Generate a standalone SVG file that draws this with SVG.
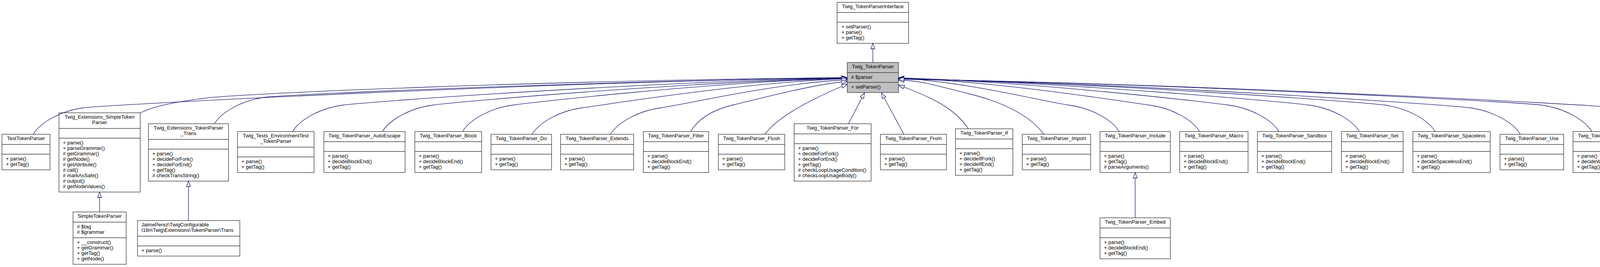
<svg xmlns="http://www.w3.org/2000/svg" width="4386" height="684" viewBox="0 0 4386 684">
<style>
.b{fill:#fff;stroke:#404040;stroke-width:1.4}
.f{fill:#bfbfbf}
.s{stroke:#404040;stroke-width:1.4;fill:none}
text{font-family:"Liberation Sans",Arial,Helvetica,sans-serif;font-size:13px;fill:#000}
.h{text-anchor:middle}
.e{fill:none;stroke:#191970;stroke-width:1.3;marker-end:url(#ah)}
</style>
<defs>
<marker id="ah" markerUnits="userSpaceOnUse" markerWidth="16" markerHeight="12" viewBox="-1 -6 16 12" refX="0" refY="0" orient="auto">
<path d="M0,-5 L14,0 L0,5 Z" fill="#fff" stroke="#191970" stroke-width="1.3"/>
</marker>
</defs>
<rect width="4386" height="684" fill="#fff"/>

<g id="n_interface">
<rect class="b" x="2143" y="6" width="183" height="105"/>
<path class="s" d="M2143,32H2326M2143,57H2326"/>
<text class="h" x="2234.5" y="21">Twig_TokenParserInterface</text>
<text x="2154" y="73">+ setParser()</text>
<text x="2154" y="87">+ parse()</text>
<text x="2154" y="101">+ getTag()</text>
</g>

<g id="n_tokenparser">
<rect class="b f" x="2169" y="160" width="131" height="77"/>
<path class="s" d="M2169,186H2300M2169,211H2300"/>
<text class="h" x="2234.5" y="175">Twig_TokenParser</text>
<text x="2179" y="202"># $parser</text>
<text x="2179" y="227">+ setParser()</text>
</g>

<g id="n_testtokenparser">
<rect class="b" x="5" y="344" width="123" height="91"/>
<path class="s" d="M5,370H128M5,395H128"/>
<text class="h" x="66.5" y="359">TestTokenParser</text>
<text x="15" y="411">+ parse()</text>
<text x="15" y="425">+ getTag()</text>
</g>

<g id="n_ext_simpletokenparser">
<rect class="b" x="151" y="289" width="208" height="203"/>
<path class="s" d="M151,329H359M151,354H359"/>
<text class="h" x="255" y="304">Twig_Extensions_SimpleToken</text>
<text class="h" x="255" y="318">Parser</text>
<text x="161" y="370">+ parse()</text>
<text x="161" y="384">+ parseGrammar()</text>
<text x="161" y="398"># getGrammar()</text>
<text x="161" y="412"># getNode()</text>
<text x="161" y="426"># getAttribute()</text>
<text x="161" y="440"># call()</text>
<text x="161" y="454"># markAsSafe()</text>
<text x="161" y="468"># output()</text>
<text x="161" y="482"># getNodeValues()</text>
</g>

<g id="n_ext_trans">
<rect class="b" x="380" y="317" width="205" height="147"/>
<path class="s" d="M380,357H585M380,382H585"/>
<text class="h" x="482.5" y="332">Twig_Extensions_TokenParser</text>
<text class="h" x="482.5" y="346">_Trans</text>
<text x="390" y="398">+ parse()</text>
<text x="390" y="412">+ decideForFork()</text>
<text x="390" y="426">+ decideForEnd()</text>
<text x="390" y="440">+ getTag()</text>
<text x="390" y="454"># checkTransString()</text>
</g>

<g id="n_tests_env">
<rect class="b" x="608" y="337" width="196" height="105"/>
<path class="s" d="M608,377H804M608,402H804"/>
<text class="h" x="706" y="352">Twig_Tests_EnvironmentTest</text>
<text class="h" x="706" y="366">_TokenParser</text>
<text x="618" y="418">+ parse()</text>
<text x="618" y="432">+ getTag()</text>
</g>

<g id="n_autoescape">
<rect class="b" x="829" y="337" width="208" height="105"/>
<path class="s" d="M829,363H1037M829,388H1037"/>
<text class="h" x="933" y="352">Twig_TokenParser_AutoEscape</text>
<text x="839" y="404">+ parse()</text>
<text x="839" y="418">+ decideBlockEnd()</text>
<text x="839" y="432">+ getTag()</text>
</g>

<g id="n_block">
<rect class="b" x="1062" y="337" width="171" height="105"/>
<path class="s" d="M1062,363H1233M1062,388H1233"/>
<text class="h" x="1147.5" y="352">Twig_TokenParser_Block</text>
<text x="1072" y="404">+ parse()</text>
<text x="1072" y="418">+ decideBlockEnd()</text>
<text x="1072" y="432">+ getTag()</text>
</g>

<g id="n_do">
<rect class="b" x="1257" y="344" width="155" height="91"/>
<path class="s" d="M1257,370H1412M1257,395H1412"/>
<text class="h" x="1334.5" y="359">Twig_TokenParser_Do</text>
<text x="1267" y="411">+ parse()</text>
<text x="1267" y="425">+ getTag()</text>
</g>

<g id="n_extends">
<rect class="b" x="1435" y="344" width="187" height="91"/>
<path class="s" d="M1435,370H1622M1435,395H1622"/>
<text class="h" x="1528.5" y="359">Twig_TokenParser_Extends</text>
<text x="1445" y="411">+ parse()</text>
<text x="1445" y="425">+ getTag()</text>
</g>

<g id="n_filter">
<rect class="b" x="1647" y="337" width="167" height="105"/>
<path class="s" d="M1647,363H1814M1647,388H1814"/>
<text class="h" x="1730.5" y="352">Twig_TokenParser_Filter</text>
<text x="1657" y="404">+ parse()</text>
<text x="1657" y="418">+ decideBlockEnd()</text>
<text x="1657" y="432">+ getTag()</text>
</g>

<g id="n_flush">
<rect class="b" x="1839" y="344" width="170" height="91"/>
<path class="s" d="M1839,370H2009M1839,395H2009"/>
<text class="h" x="1924" y="359">Twig_TokenParser_Flush</text>
<text x="1849" y="411">+ parse()</text>
<text x="1849" y="425">+ getTag()</text>
</g>

<g id="n_for">
<rect class="b" x="2033" y="317" width="197" height="147"/>
<path class="s" d="M2033,343H2230M2033,368H2230"/>
<text class="h" x="2131.5" y="332">Twig_TokenParser_For</text>
<text x="2043" y="384">+ parse()</text>
<text x="2043" y="398">+ decideForFork()</text>
<text x="2043" y="412">+ decideForEnd()</text>
<text x="2043" y="426">+ getTag()</text>
<text x="2043" y="440"># checkLoopUsageCondition()</text>
<text x="2043" y="454"># checkLoopUsageBody()</text>
</g>

<g id="n_from">
<rect class="b" x="2254" y="344" width="169" height="91"/>
<path class="s" d="M2254,370H2423M2254,395H2423"/>
<text class="h" x="2338.5" y="359">Twig_TokenParser_From</text>
<text x="2264" y="411">+ parse()</text>
<text x="2264" y="425">+ getTag()</text>
</g>

<g id="n_if">
<rect class="b" x="2446" y="330" width="147" height="119"/>
<path class="s" d="M2446,356H2593M2446,381H2593"/>
<text class="h" x="2519.5" y="345">Twig_TokenParser_If</text>
<text x="2456" y="397">+ parse()</text>
<text x="2456" y="411">+ decideIfFork()</text>
<text x="2456" y="425">+ decideIfEnd()</text>
<text x="2456" y="439">+ getTag()</text>
</g>

<g id="n_import">
<rect class="b" x="2617" y="344" width="175" height="91"/>
<path class="s" d="M2617,370H2792M2617,395H2792"/>
<text class="h" x="2704.5" y="359">Twig_TokenParser_Import</text>
<text x="2627" y="411">+ parse()</text>
<text x="2627" y="425">+ getTag()</text>
</g>

<g id="n_include">
<rect class="b" x="2816" y="337" width="180" height="105"/>
<path class="s" d="M2816,363H2996M2816,388H2996"/>
<text class="h" x="2906" y="352">Twig_TokenParser_Include</text>
<text x="2826" y="404">+ parse()</text>
<text x="2826" y="418">+ getTag()</text>
<text x="2826" y="432"># parseArguments()</text>
</g>

<g id="n_macro">
<rect class="b" x="3020" y="337" width="175" height="105"/>
<path class="s" d="M3020,363H3195M3020,388H3195"/>
<text class="h" x="3107.5" y="352">Twig_TokenParser_Macro</text>
<text x="3030" y="404">+ parse()</text>
<text x="3030" y="418">+ decideBlockEnd()</text>
<text x="3030" y="432">+ getTag()</text>
</g>

<g id="n_sandbox">
<rect class="b" x="3219" y="337" width="190" height="105"/>
<path class="s" d="M3219,363H3409M3219,388H3409"/>
<text class="h" x="3314" y="352">Twig_TokenParser_Sandbox</text>
<text x="3229" y="404">+ parse()</text>
<text x="3229" y="418">+ decideBlockEnd()</text>
<text x="3229" y="432">+ getTag()</text>
</g>

<g id="n_set">
<rect class="b" x="3434" y="337" width="158" height="105"/>
<path class="s" d="M3434,363H3592M3434,388H3592"/>
<text class="h" x="3513" y="352">Twig_TokenParser_Set</text>
<text x="3444" y="404">+ parse()</text>
<text x="3444" y="418">+ decideBlockEnd()</text>
<text x="3444" y="432">+ getTag()</text>
</g>

<g id="n_spaceless">
<rect class="b" x="3617" y="337" width="198" height="105"/>
<path class="s" d="M3617,363H3815M3617,388H3815"/>
<text class="h" x="3716" y="352">Twig_TokenParser_Spaceless</text>
<text x="3627" y="404">+ parse()</text>
<text x="3627" y="418">+ decideSpacelessEnd()</text>
<text x="3627" y="432">+ getTag()</text>
</g>

<g id="n_use">
<rect class="b" x="3840" y="344" width="163" height="91"/>
<path class="s" d="M3840,370H4003M3840,395H4003"/>
<text class="h" x="3921.5" y="359">Twig_TokenParser_Use</text>
<text x="3850" y="411">+ parse()</text>
<text x="3850" y="425">+ getTag()</text>
</g>

<g id="n_with">
<rect class="b" x="4027" y="337" width="165" height="105"/>
<path class="s" d="M4027,363H4192M4027,388H4192"/>
<text class="h" x="4109.5" y="352">Twig_TokenParser_With</text>
<text x="4037" y="404">+ parse()</text>
<text x="4037" y="418">+ decideWithEnd()</text>
<text x="4037" y="432">+ getTag()</text>
</g>

<g id="n_twigtest">
<rect class="b" x="4217" y="344" width="164" height="91"/>
<path class="s" d="M4217,370H4381M4217,395H4381"/>
<text class="h" x="4299" y="359">TwigTestTokenParser_§</text>
<text x="4227" y="411">+ parse()</text>
<text x="4227" y="425">+ getTag()</text>
</g>

<g id="n_simpletokenparser">
<rect class="b" x="187" y="543" width="136" height="134"/>
<path class="s" d="M187,569H323M187,609H323"/>
<text class="h" x="255" y="558">SimpleTokenParser</text>
<text x="197" y="585"># $tag</text>
<text x="197" y="599"># $grammar</text>
<text x="197" y="625">+ __construct()</text>
<text x="197" y="639">+ getGrammar()</text>
<text x="197" y="653">+ getTag()</text>
<text x="197" y="667">+ getNode()</text>
</g>

<g id="n_jaime_trans">
<rect class="b" x="352" y="565" width="262" height="91"/>
<path class="s" d="M352,605H614M352,630H614"/>
<text x="362" y="580">JaimePerez\TwigConfigurable</text>
<text x="362" y="594">I18n\Twig\Extensions\TokenParser\Trans</text>
<text x="362" y="646">+ parse()</text>
</g>

<g id="n_embed">
<rect class="b" x="2816" y="558" width="180" height="105"/>
<path class="s" d="M2816,584H2996M2816,609H2996"/>
<text class="h" x="2906" y="573">Twig_TokenParser_Embed</text>
<text x="2826" y="625">+ parse()</text>
<text x="2826" y="639">+ decideBlockEnd()</text>
<text x="2826" y="653">+ getTag()</text>
</g>

<g id="connectors">
<path class="e" d="M2234.5,160L2234.5,125"/>
<path class="e" d="M255,543L255,506"/>
<path class="e" d="M482.5,565L482.5,478"/>
<path class="e" d="M2906,558L2906,456"/>
<path class="e" d="M2172,317L2206.6,250.5"/>
<path class="e" d="M2314,344L2263.2,250.2"/>
<path class="e" d="M85,344C103,314 155,284 215,276S1379,211 2155,199"/>
<path class="e" d="M358,290C380,278 420,265 520,252S1400,206 2155,199"/>
<path class="e" d="M549,317C567,287 619,257 679,249S1565,207 2155,200"/>
<path class="e" d="M749,337C767,307 819,277 879,269S1645,210 2155,200"/>
<path class="e" d="M979,337C997,307 1049,277 1109,269S1737,211 2155,201"/>
<path class="e" d="M1184,337C1202,307 1254,277 1314,269S1819,211 2155,201"/>
<path class="e" d="M1362,344C1380,314 1432,284 1492,276S1890,213 2155,202"/>
<path class="e" d="M1563,344C1581,314 1633,284 1693,276S1970,216 2155,205"/>
<path class="e" d="M1768,337C1790,300 1830,280 1880,268S2080,217 2155,210"/>
<path class="e" d="M1958,344C1990,300 2075,255 2156,221"/>
<path class="e" d="M2479,330C2450,285 2400,255 2314,223"/>
<path class="e" d="M2672,344C2640,300 2580,265 2480,240S2360,208 2314,206"/>
<path class="e" d="M2865,337C2847,307 2795,277 2735,269S2482,211 2314,201"/>
<path class="e" d="M3071,337C3053,307 3001,277 2941,269S2565,210 2314,200"/>
<path class="e" d="M3274,337C3256,307 3204,277 3144,269S2646,210 2314,200"/>
<path class="e" d="M3480,337C3462,307 3410,277 3350,269S2728,211 2314,201"/>
<path class="e" d="M3674,337C3656,307 3604,277 3544,269S2806,212 2314,202"/>
<path class="e" d="M3892,344C3874,314 3822,284 3762,276S2893,213 2314,202"/>
<path class="e" d="M4075,337C4057,307 4005,277 3945,269S2966,213 2314,203"/>
<path class="e" d="M4270,344C4252,314 4200,284 4140,276S3044,214 2314,203"/>
</g>
</svg>
